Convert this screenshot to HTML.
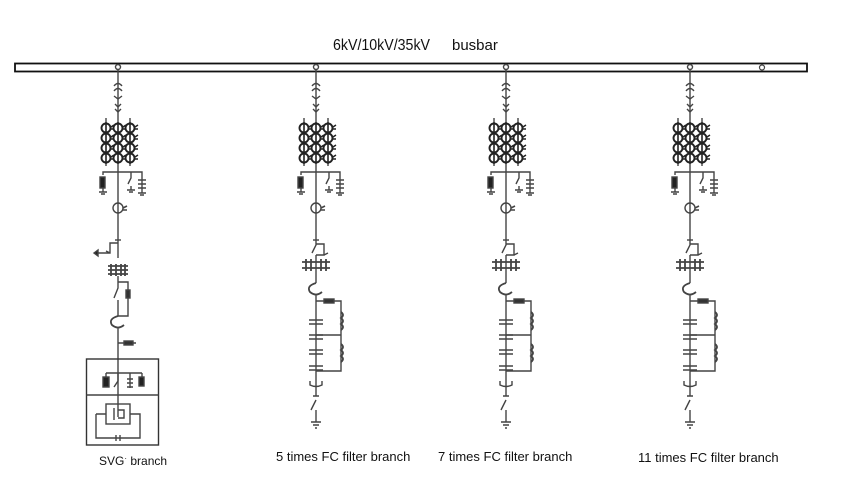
<!DOCTYPE html>
<html><head><meta charset="utf-8"><style>
html,body{margin:0;padding:0;background:#fff;width:847px;height:489px;overflow:hidden}
svg{display:block}
text{font-family:"Liberation Sans",sans-serif;fill:#111}
</style></head><body>
<svg width="847" height="489" viewBox="0 0 847 489" xmlns="http://www.w3.org/2000/svg">
<defs>
<g id="ct">
 <circle cx="0" cy="0" r="4.5" fill="none" stroke="#222" stroke-width="1.9"/>
 <line x1="0" y1="-6" x2="0" y2="6" stroke="#222" stroke-width="1.4"/>
 <path d="M5 -1 l3 -2 M5 1 l3 0" stroke="#222" stroke-width="1.5"/>
</g>
<g id="top" stroke="#444" stroke-width="1.4" fill="none">
 <circle cx="0" cy="67" r="2.5" fill="#fff"/>
 <line x1="0" y1="70" x2="0" y2="240"/>
 <path d="M-4 86 q4 -5 8 0 M-4 91 q4 -5 8 0 M-4 96 l4 3 l4 -3"/>
 <path d="M-3 104 l3 3 l3 -3 M-3 109 l3 3 l3 -3"/>
 <line x1="-12" y1="118" x2="-12" y2="166"/><line x1="12" y1="118" x2="12" y2="166"/>
 <use href="#ct" x="-12" y="128"/><use href="#ct" x="0" y="128"/><use href="#ct" x="12" y="128"/>
 <use href="#ct" x="-12" y="138"/><use href="#ct" x="0" y="138"/><use href="#ct" x="12" y="138"/>
 <use href="#ct" x="-12" y="148"/><use href="#ct" x="0" y="148"/><use href="#ct" x="12" y="148"/>
 <use href="#ct" x="-12" y="158"/><use href="#ct" x="0" y="158"/><use href="#ct" x="12" y="158"/>
 <path d="M-15 175 L-15 172 L24 172 L24 177"/>
 <rect x="-18" y="177" width="5" height="11" fill="#222"/>
 <path d="M-15 188 v4 M-19 192 h8 M-17 194 h4"/>
 <path d="M13 172 v6 l-3 6 M13 186 v4 M9 190 h8 M11 192 h4"/>
 <path d="M24 177 v16 M20 180 h8 M20 184 h8 M20 188 h8 M20 193 h8 M22 195 h4"/>
 <circle cx="0" cy="208" r="5"/>
 <path d="M5 208 l4 -2 M5 210 l4 0" stroke-width="1.6"/>
 <line x1="-3" y1="240" x2="3" y2="240"/>
</g>
<g id="fc" stroke="#444" stroke-width="1.4" fill="none">
 <path d="M0 240 v5 l-4 8 M0 255 v28"/>
 <path d="M0 244 h8 v11 h-8 M8 255 l4 -2"/>
 <path d="M-14 262 h28 M-14 268 h28 M-10 259 v12 M-5 259 v12 M5 259 v12 M10 259 v12" stroke-width="1.8"/>
 <path d="M0 283 q-10 3 -6 9 q6 5 12 0" stroke-width="1.8"/>
 <path d="M0 294 v80"/>
 <path d="M0 301 h25 v70 h-25 M0 335 h25"/>
 <rect x="8" y="299" width="10" height="4" fill="#333"/>
 <path d="M25 312 q4 3 0 6 q4 3 0 6 q4 3 0 6 M25 344 q4 3 0 6 q4 3 0 6 q4 3 0 6" stroke-width="1.8"/>
 <path d="M-7 320 h14 M-7 324 h14 M-7 335 h14 M-7 339 h14 M-7 350 h14 M-7 354 h14 M-7 366 h14 M-7 370 h14"/>
 <path d="M-6 381 v4 q6 3 12 0 v-4"/>
 <path d="M0 374 v22 M-3 396 h6 M0 400 l-5 10 M0 410 v12 M-5 422 h10 M-3 425 h6 M-1 428 h2"/>
</g>
</defs>

<text x="333" y="50" font-size="16" textLength="97" lengthAdjust="spacingAndGlyphs">6kV/10kV/35kV</text>
<text x="452" y="50" font-size="15">busbar</text>

<rect x="15" y="63.5" width="792" height="8" fill="none" stroke="#111" stroke-width="1.8"/>
<circle cx="762" cy="67.5" r="2.5" fill="#fff" stroke="#444" stroke-width="1.2"/>

<use href="#top" x="118"/>
<use href="#top" x="316"/><use href="#fc" x="316"/>
<use href="#top" x="506"/><use href="#fc" x="506"/>
<use href="#top" x="690"/><use href="#fc" x="690"/>

<g stroke="#444" stroke-width="1.4" fill="none">
 <path d="M118 240 v18 M118 243 h-8 v10 h-12 M110 253 l-4 -2"/>
 <path d="M94 253 l4 -3 v6 z" fill="#222"/>
 <path d="M108 266 h20 M108 270 h20 M108 274 h20 M111 264 v12 M116 264 v12 M121 264 v12 M125 264 v12" stroke-width="1.8"/>
 <path d="M118 276 v12 l-4 10 M118 300 v16 M118 282 h10 v8 M128 296 v20 h-10"/>
 <rect x="126" y="290" width="4" height="8" fill="#333"/>
 <path d="M118 316 q-10 3 -6 9 q6 5 12 0" stroke-width="1.8"/>
 <path d="M118 327 v90"/>
 <path d="M118 343 h18"/><rect x="124" y="341" width="9" height="4" fill="#333"/>
 <rect x="86.5" y="359" width="72" height="86" stroke="#333"/>
 <line x1="86.5" y1="395" x2="158.5" y2="395"/>
 <path d="M106 373 h36 M106 373 v4 M130 373 v15 M142 373 v4 M118 373 v8 l-4 6"/>
 <rect x="103" y="377" width="6" height="10" fill="#222"/>
 <path d="M127 379 h6 M127 383 h6 M127 387 h6"/>
 <rect x="139" y="377" width="5" height="9" fill="#222"/>
 <rect x="106" y="404" width="24" height="20"/>
 <path d="M96 414 h10 M96 414 v24 h44 v-24 h-10 M114 408 v12 M118 410 h6 v8 h-6"/>
 <path d="M116 435 v6 M120 435 v6"/>
</g>

<text x="99" y="465" font-size="12">SVG<tspan font-size="8" dy="-4">·</tspan><tspan dy="4"> branch</tspan></text>
<text x="276" y="461" font-size="13">5 times FC filter branch</text>
<text x="438" y="461" font-size="13">7 times FC filter branch</text>
<text x="638" y="462" font-size="13">11 times FC filter branch</text>
</svg>
</body></html>
